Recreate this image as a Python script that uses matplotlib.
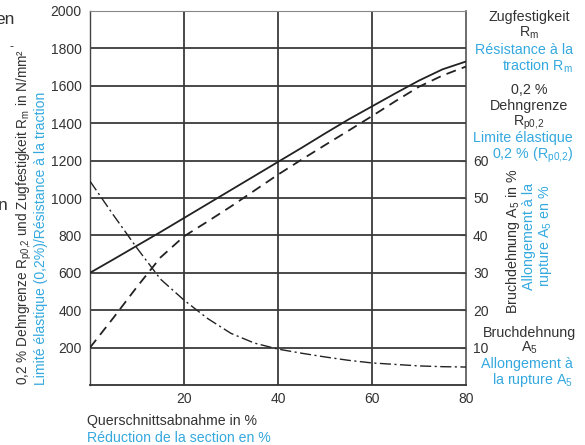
import matplotlib
matplotlib.use("Agg")
import matplotlib.pyplot as plt

plt.rcParams['font.family'] = ['Liberation Sans', 'DejaVu Sans']
plt.rcParams['mathtext.default'] = 'regular'

BLACK = '#333333'
BLUE = '#35a9df'
LINE = '#222222'
GRID = '#3a3a3a'

# Data
reduction = [0, 5, 10, 15, 20, 25, 30, 35, 40, 45, 50, 55, 60, 65, 70, 75, 80]
rm = [600, 672, 745, 818, 893, 968, 1043, 1118, 1193, 1268, 1345, 1420, 1490, 1560, 1628, 1688, 1730]
rp02 = [200, 360, 525, 682, 795, 874, 955, 1040, 1125, 1205, 1283, 1360, 1438, 1518, 1595, 1655, 1703]
a5 = [54.5, 45.4, 36.6, 28.3, 22.7, 17.8, 13.8, 11.2, 9.6, 8.5, 7.5, 6.6, 5.9, 5.5, 5.1, 4.9, 4.8]

x_ticks = [20, 40, 60, 80]
y_ticks = [200, 400, 600, 800, 1000, 1200, 1400, 1600, 1800, 2000]
y2_ticks = [10, 20, 30, 40, 50, 60]

W, H = 585, 445
fig = plt.figure(figsize=(W / 100, H / 100), dpi=100)

def fx(px):
    return px / W

def fy(py):
    return 1 - py / H

ax = fig.add_axes([fx(90), fy(385), fx(466) - fx(90), fy(11) - fy(385)])
ax.set_xlim(0, 80)
ax.set_ylim(0, 2000)

# grid
for v in [20, 40, 60]:
    ax.axvline(v, color=GRID, lw=1.3, zorder=1)
for v in y_ticks[:-1]:
    ax.axhline(v, color=GRID, lw=1.3, zorder=1)

ax.plot(reduction, rm, color=LINE, lw=1.3, zorder=3)
ax.plot(reduction, rp02, color=LINE, lw=1.3, dashes=(5.5, 3.5), zorder=3)

ax.set_xticks(x_ticks)
ax.set_yticks(y_ticks)
ax.tick_params(axis='both', length=0, labelsize=10, labelcolor=BLACK)
ax.tick_params(axis='x', pad=5)
ax.tick_params(axis='y', pad=6)

ax.spines['top'].set_color('#888888')
ax.spines['top'].set_linewidth(0.8)
ax.spines['left'].set_color('#444444')
ax.spines['left'].set_linewidth(1.0)
ax.spines['bottom'].set_color('#333333')
ax.spines['bottom'].set_linewidth(1.3)
ax.spines['right'].set_color('#444444')
ax.spines['right'].set_linewidth(1.1)

ax2 = ax.twinx()
ax2.set_ylim(0, 100)
ax2.plot(reduction, a5, color=LINE, lw=1.0, dashes=(8, 2.5, 1.5, 2.5), zorder=3)
ax2.set_yticks(y2_ticks)
ax2.tick_params(axis='y', direction='in', length=4, width=0.8, color='#444444',
                labelsize=10, labelcolor=BLACK, pad=5)
for s in ax2.spines.values():
    s.set_visible(False)

# Left y labels
fig.text(fx(24), fy(385), '0,2 % Dehngrenze R$_{p0{,}2}$ und Zugfestigkeit R$_{m}$ in N/mm²',
         rotation=90, rotation_mode='anchor', ha='left', va='center',
         fontsize=9.8, color=BLACK)
fig.text(fx(41), fy(385), 'Limité élastique (0,2%)/Résistance à la traction',
         rotation=90, rotation_mode='anchor', ha='left', va='center',
         fontsize=10.1, color=BLUE)

# stray cut-off text at far left (cut off in the reference as well)
fig.text(fx(15), fy(19), 'en', ha='right', va='center', fontsize=12.5, color=BLACK)
fig.text(fx(13), fy(47), '-', ha='right', va='center', fontsize=9, color=BLACK)
fig.text(fx(8), fy(206), 'n', ha='right', va='center', fontsize=12.5, color=BLACK)

# bottom labels
fig.text(fx(87), fy(421), 'Querschnittsabnahme in %', ha='left', va='center',
         fontsize=10.2, color=BLACK)
fig.text(fx(87), fy(438), 'Réduction de la section en %', ha='left', va='center',
         fontsize=10.2, color=BLUE)

# right-side annotations
CX = 529
RX = 573
fs = 10.3
fig.text(fx(CX), fy(17), 'Zugfestigkeit', ha='center', va='center', fontsize=fs, color=BLACK)
fig.text(fx(CX), fy(33), 'R$_{m}$', ha='center', va='center', fontsize=fs, color=BLACK)
fig.text(fx(RX), fy(50), 'Résistance à la', ha='right', va='center', fontsize=fs, color=BLUE)
fig.text(fx(RX), fy(66), 'traction R$_{m}$', ha='right', va='center', fontsize=fs, color=BLUE)

fig.text(fx(CX), fy(90), '0,2 %', ha='center', va='center', fontsize=fs, color=BLACK)
fig.text(fx(CX), fy(106), 'Dehngrenze', ha='center', va='center', fontsize=fs, color=BLACK)
fig.text(fx(CX), fy(123), 'R$_{p0{,}2}$', ha='center', va='center', fontsize=fs, color=BLACK)
fig.text(fx(RX), fy(138), 'Limite élastique', ha='right', va='center', fontsize=fs, color=BLUE)
fig.text(fx(RX), fy(155), '0,2 % (R$_{p0{,}2}$)', ha='right', va='center', fontsize=fs, color=BLUE)

fig.text(fx(CX), fy(333), 'Bruchdehnung', ha='center', va='center', fontsize=fs, color=BLACK)
fig.text(fx(CX), fy(348), 'A$_{5}$', ha='center', va='center', fontsize=fs, color=BLACK)
fig.text(fx(RX), fy(364), 'Allongement à', ha='right', va='center', fontsize=fs, color=BLUE)
fig.text(fx(RX), fy(380), 'la rupture A$_{5}$', ha='right', va='center', fontsize=fs, color=BLUE)

# right vertical labels
fig.text(fx(513), fy(241), 'Bruchdehnung A$_{5}$ in %', rotation=90, ha='center', va='center',
         fontsize=fs, color=BLACK)
fig.text(fx(538), fy(236), 'Allongement à la\nrupture A$_{5}$ en %', rotation=90,
         ha='center', va='center', multialignment='center', linespacing=1.1,
         fontsize=fs, color=BLUE)

fig.savefig('out.png', dpi=100)
